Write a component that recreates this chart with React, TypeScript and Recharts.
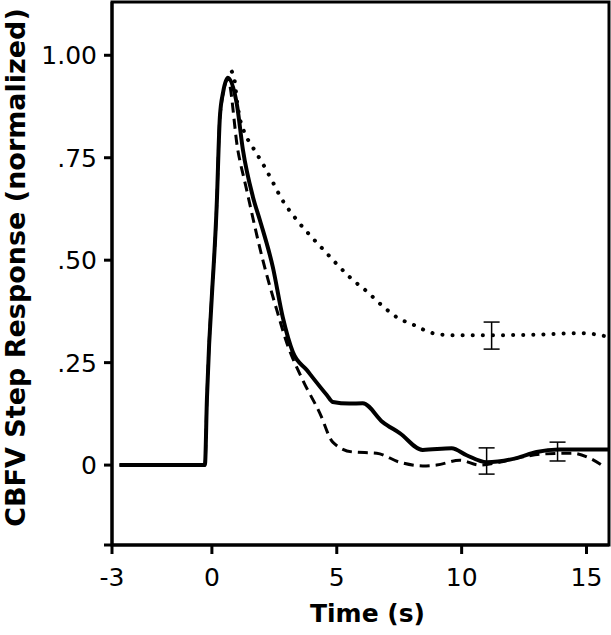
import {
  ComposedChart,
  Line,
  Scatter,
  ErrorBar,
  XAxis,
  YAxis,
  ReferenceArea,
  Label,
} from "recharts";

// time in s, normalized CBFV step response
const solidSeries = [
  { t: -3.7, v: 0 },
  { t: -0.28, v: 0 },
  { t: -0.2, v: 0.16 },
  { t: 0.2, v: 0.646 },
  { t: 0.32, v: 0.85 },
  { t: 0.45, v: 0.91 },
  { t: 0.64, v: 0.945 },
  { t: 1.0, v: 0.88 },
  { t: 1.24, v: 0.77 },
  { t: 1.64, v: 0.655 },
  { t: 1.92, v: 0.598 },
  { t: 2.44, v: 0.483 },
  { t: 2.84, v: 0.36 },
  { t: 3.24, v: 0.276 },
  { t: 3.8, v: 0.232 },
  { t: 4.6, v: 0.171 },
  { t: 4.84, v: 0.154 },
  { t: 5.5, v: 0.15 },
  { t: 6.04, v: 0.151 },
  { t: 6.84, v: 0.105 },
  { t: 7.52, v: 0.078 },
  { t: 8.44, v: 0.037 },
  { t: 9.6, v: 0.041 },
  { t: 10.2, v: 0.024 },
  { t: 11.0, v: 0.007 },
  { t: 12.2, v: 0.017 },
  { t: 13.0, v: 0.032 },
  { t: 13.9, v: 0.038 },
  { t: 15.5, v: 0.038 },
  { t: 15.9, v: 0.038 },
];

const dashedSeries = [
  { t: -3.7, v: 0 },
  { t: -0.28, v: 0 },
  { t: -0.2, v: 0.16 },
  { t: 0.2, v: 0.646 },
  { t: 0.32, v: 0.85 },
  { t: 0.64, v: 0.94 },
  { t: 1.04, v: 0.768 },
  { t: 1.36, v: 0.68 },
  { t: 2.04, v: 0.5 },
  { t: 2.6, v: 0.378 },
  { t: 3.0, v: 0.298 },
  { t: 3.64, v: 0.207 },
  { t: 4.32, v: 0.127 },
  { t: 4.84, v: 0.056 },
  { t: 5.64, v: 0.032 },
  { t: 6.6, v: 0.029 },
  { t: 7.52, v: 0.007 },
  { t: 8.44, v: -0.002 },
  { t: 9.0, v: 0 },
  { t: 9.92, v: 0.012 },
  { t: 10.72, v: 0 },
  { t: 11.5, v: 0.007 },
  { t: 12.44, v: 0.02 },
  { t: 13.24, v: 0.027 },
  { t: 14.44, v: 0.029 },
  { t: 15.12, v: 0.017 },
  { t: 15.7, v: -0.004 },
];

const dottedSeries = [
  { t: 0.8, v: 0.96 },
  { t: 0.92, v: 0.934 },
  { t: 1.0, v: 0.89 },
  { t: 1.12, v: 0.846 },
  { t: 1.28, v: 0.815 },
  { t: 1.64, v: 0.775 },
  { t: 2.04, v: 0.735 },
  { t: 2.4, v: 0.695 },
  { t: 2.76, v: 0.653 },
  { t: 3.4, v: 0.598 },
  { t: 4.0, v: 0.556 },
  { t: 4.52, v: 0.522 },
  { t: 5.04, v: 0.488 },
  { t: 5.6, v: 0.454 },
  { t: 6.2, v: 0.424 },
  { t: 6.8, v: 0.39 },
  { t: 7.4, v: 0.361 },
  { t: 8.12, v: 0.341 },
  { t: 8.84, v: 0.322 },
  { t: 9.64, v: 0.317 },
  { t: 11.24, v: 0.317 },
  { t: 12.84, v: 0.318 },
  { t: 14.8, v: 0.322 },
  { t: 15.8, v: 0.314 },
];

const errorPoints = [
  { t: 11.2, v: 0.316, err: 0.033 },
  { t: 11.0, v: 0.01, err: 0.032 },
  { t: 13.84, v: 0.033, err: 0.023 },
];

const xTicks = [-4, 0, 5, 10, 15];
const xTickLabels = ["-3", "0", "5", "10", "15"];
const yTicks = [-0.195, 0, 0.25, 0.5, 0.75, 1];
const yTickLabels = ["", "0", ".25", ".50", ".75", "1.00"];

const font = "'DejaVu Sans', sans-serif";
const tickStyle = { fontFamily: font, fontSize: 25, fill: "#000" };

export default function App() {
  return (
    <div style={{ position: "absolute", left: 0, top: 0 }}>
      <ComposedChart
        width={611}
        height={635}
        margin={{ top: 2, right: 2, left: 0, bottom: 0 }}
      >
        <XAxis
          dataKey="t"
          type="number"
          domain={[-4, 15.9]}
          ticks={xTicks}
          tickFormatter={(v) => xTickLabels[xTicks.indexOf(v)] ?? ""}
          allowDataOverflow
          height={90}
          tickSize={9}
          tickMargin={14}
          tick={tickStyle}
          axisLine={{ stroke: "#000", strokeWidth: 3 }}
          tickLine={{ stroke: "#000", strokeWidth: 3 }}
        >
          <Label
            content={({ viewBox }: any) => (
              <text
                x={viewBox.x + viewBox.width / 2 + 7}
                y={viewBox.y + 77}
                textAnchor="middle"
                style={{ fontFamily: font, fontSize: 25, fontWeight: "bold" }}
              >
                Time (s)
              </text>
            )}
          />
        </XAxis>
        <YAxis
          type="number"
          domain={[-0.195, 1.13]}
          ticks={yTicks}
          tickFormatter={(v) => yTickLabels[yTicks.indexOf(v)] ?? ""}
          allowDataOverflow
          width={112}
          tickSize={8}
          tickMargin={7}
          tick={tickStyle}
          axisLine={{ stroke: "#000", strokeWidth: 3 }}
          tickLine={{ stroke: "#000", strokeWidth: 3 }}
        >
          <Label
            content={({ viewBox }: any) => {
              const cx = 25;
              const cy = viewBox.y + viewBox.height / 2 - 6;
              return (
                <text
                  x={cx}
                  y={cy}
                  textAnchor="middle"
                  transform={`rotate(-90, ${cx}, ${cy})`}
                  style={{ fontFamily: font, fontSize: 27, fontWeight: "bold" }}
                >
                  CBFV Step Response (normalized)
                </text>
              );
            }}
          />
        </YAxis>
        <ReferenceArea
          x1={-4}
          x2={15.9}
          y1={-0.195}
          y2={1.13}
          fill="none"
          stroke="#000"
          strokeWidth={3}
        />
        <Line
          data={dottedSeries}
          dataKey="v"
          type="monotone"
          stroke="#000"
          strokeWidth={4}
          strokeDasharray="0.1 10"
          strokeLinecap="round"
          dot={false}
          activeDot={false}
          isAnimationActive={false}
        />
        <Line
          data={dashedSeries}
          dataKey="v"
          type="monotone"
          stroke="#000"
          strokeWidth={3}
          strokeDasharray="10 6"
          dot={false}
          activeDot={false}
          isAnimationActive={false}
        />
        <Line
          data={solidSeries}
          dataKey="v"
          type="monotone"
          stroke="#000"
          strokeWidth={4}
          dot={false}
          activeDot={false}
          isAnimationActive={false}
        />
        <Scatter
          data={errorPoints}
          dataKey="v"
          shape={() => <g />}
          isAnimationActive={false}
        >
          <ErrorBar
            dataKey="err"
            direction="y"
            width={8}
            stroke="#000"
            strokeWidth={1.5}
            isAnimationActive={false}
          />
        </Scatter>
      </ComposedChart>
    </div>
  );
}
